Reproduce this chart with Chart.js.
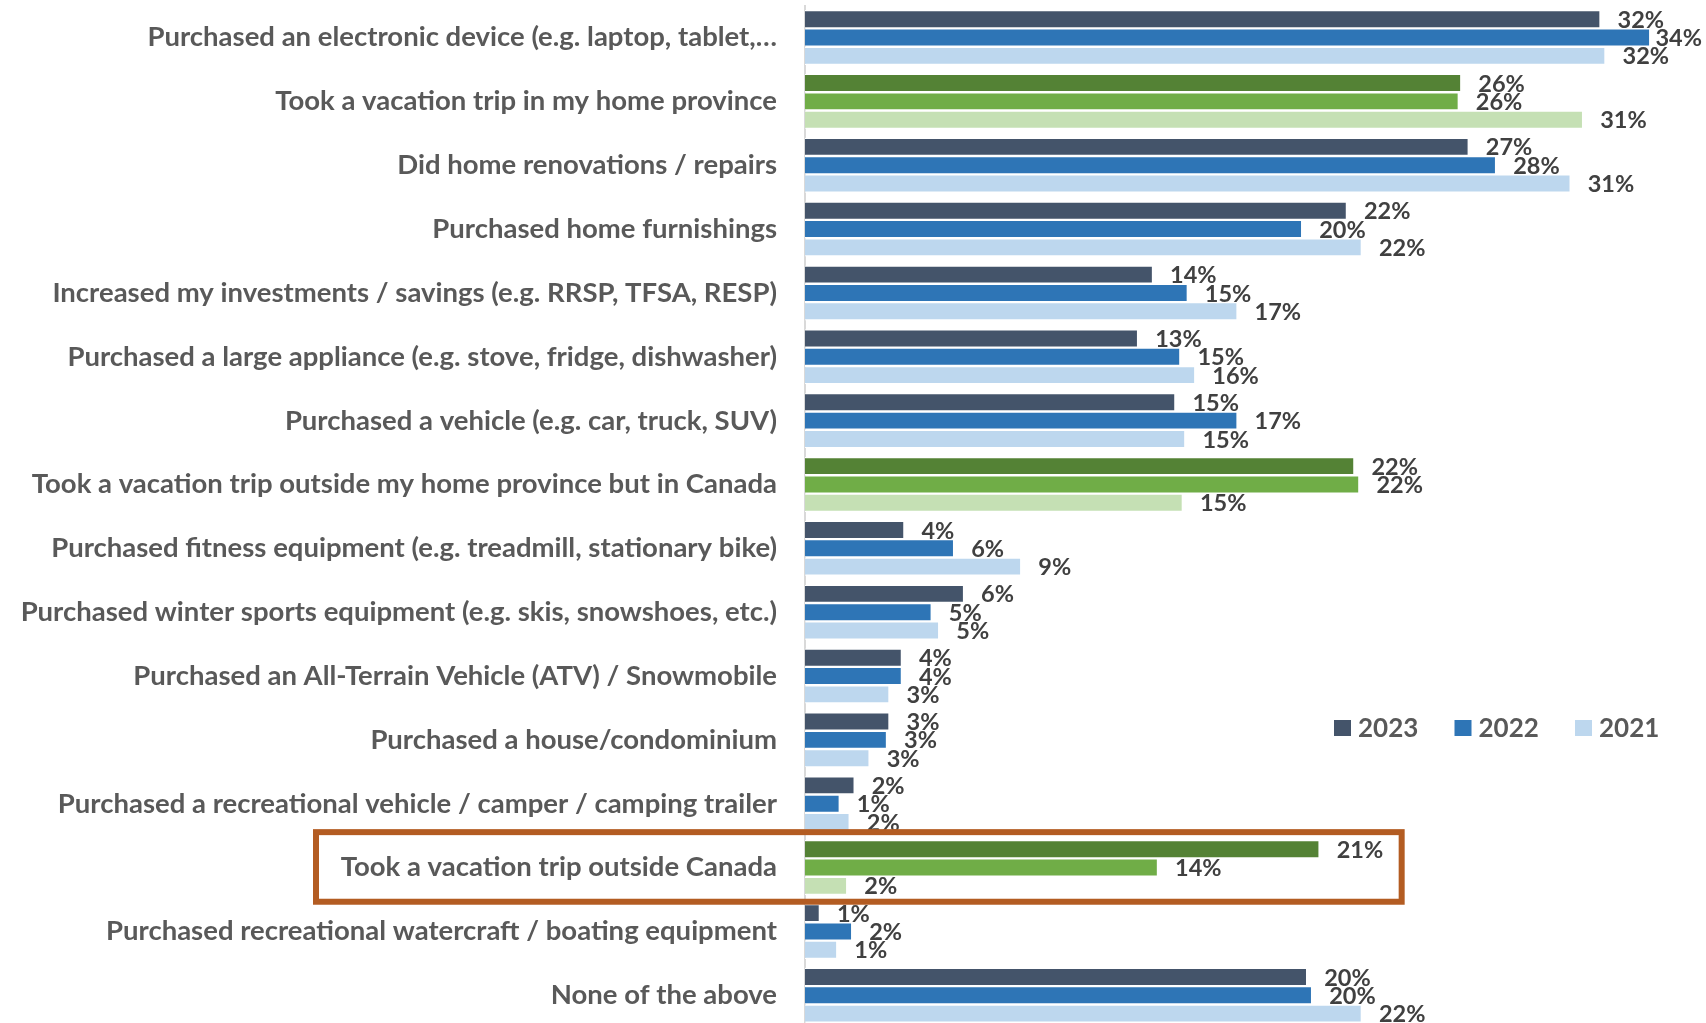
<!DOCTYPE html>
<html>
<head>
<meta charset="utf-8">
<title>Purchases by year</title>
<script src="https://cdn.jsdelivr.net/npm/chart.js@4.4.1/dist/chart.umd.min.js"></script>
<style>
    html, body { margin: 0; padding: 0; background: #ffffff; overflow: hidden; }
    #wrap { position: absolute; left: 0; top: 0; }
</style>
</head>
<body>
<div id="wrap">
    <canvas id="purchasesChart" width="1706" height="1032"></canvas>
</div>
<script>
// Categories (top to bottom)
const categories = [
    'Purchased an electronic device (e.g. laptop, tablet,\u2026',
    'Took a vacation trip in my home province',
    'Did home renovations / repairs',
    'Purchased home furnishings',
    'Increased my investments / savings (e.g. RRSP, TFSA, RESP)',
    'Purchased a large appliance (e.g. stove, fridge, dishwasher)',
    'Purchased a vehicle (e.g. car, truck, SUV)',
    'Took a vacation trip outside my home province but in Canada',
    'Purchased fitness equipment (e.g. treadmill, stationary bike)',
    'Purchased winter sports equipment (e.g. skis, snowshoes, etc.)',
    'Purchased an All-Terrain Vehicle (ATV) / Snowmobile',
    'Purchased a house/condominium',
    'Purchased a recreational vehicle / camper / camping trailer',
    'Took a vacation trip outside Canada',
    'Purchased recreational watercraft / boating equipment',
    'None of the above'
];

// Series values (%)
const years = ['2023', '2022', '2021'];
const values2023 = [32.0, 26.4, 26.7, 21.8, 14.0, 13.4, 14.9, 22.1, 4.0, 6.4, 3.9, 3.4, 2.0, 20.7, 0.6, 20.2];
const values2022 = [34.0, 26.3, 27.8, 20.0, 15.4, 15.1, 17.4, 22.3, 6.0, 5.1, 3.9, 3.3, 1.4, 14.2, 1.9, 20.4];
const values2021 = [32.2, 31.3, 30.8, 22.4, 17.4, 15.7, 15.3, 15.2, 8.7, 5.4, 3.4, 2.6, 1.8, 1.7, 1.3, 22.4];

// Travel categories are drawn in green
const travelRows = [1, 7, 13];
// Row with the orange highlight box
const boxedRow = 13;

const blues = ['#44546A', '#2E75B6', '#BDD7EE'];
const greens = ['#548235', '#70AD47', '#C5E0B4'];

function rowColors(idx) {
    return categories.map(function(c, i) {
        return travelRows.includes(i) ? greens[idx] : blues[idx];
    });
}

const FONT = 'Lato, "Open Sans", sans-serif';

// Data labels, right of each bar
const barLabels = {
    id: 'barLabels',
    afterDatasetsDraw(chart) {
        const ctx = chart.ctx;
        ctx.save();
        ctx.font = 'bold 23.5px ' + FONT;
        ctx.fillStyle = '#404040';
        ctx.textBaseline = 'middle';
        chart.data.datasets.forEach(function(ds, i) {
            const meta = chart.getDatasetMeta(i);
            meta.data.forEach(function(bar, j) {
                const text = Math.round(ds.data[j]) + '%';
                const w = ctx.measureText(text).width;
                let x = bar.x + 17;
                if (x + w > chart.width - 4) {
                    x = chart.width - 4 - w;
                }
                ctx.fillText(text, x, bar.y + 1);
            });
        });
        ctx.restore();
    }
};

// Orange box round the "outside Canada" row, plus the legend
const extras = {
    id: 'extras',
    afterDraw(chart) {
        const ctx = chart.ctx;
        const area = chart.chartArea;
        const y = chart.scales.y;
        const x = chart.scales.x;
        const rowH = (y.getPixelForValue(1) - y.getPixelForValue(0));
        const cy = y.getPixelForValue(boxedRow);

        ctx.save();
        ctx.strokeStyle = '#B35C22';
        ctx.lineWidth = 6;
        const left = area.left - 489;
        const right = x.getPixelForValue(24);
        const top = cy - rowH * 0.555;
        const bottom = cy + rowH * 0.535;
        ctx.strokeRect(left, top, right - left, bottom - top);

        // Legend
        const ly = 728;
        let lx = area.left + 529;
        ctx.font = 'bold 26px ' + FONT;
        ctx.textBaseline = 'middle';
        years.forEach(function(yr, i) {
            ctx.fillStyle = blues[i];
            ctx.fillRect(lx, ly - 8, 17, 16);
            ctx.fillStyle = '#595959';
            ctx.fillText(yr, lx + 24, ly + 1);
            lx += 120.5;
        });
        ctx.restore();
    }
};

const ctx = document.getElementById('purchasesChart');
new Chart(ctx, {
    type: 'bar',
    data: {
        labels: categories,
        datasets: [
            { label: years[0], data: values2023, backgroundColor: rowColors(0) },
            { label: years[1], data: values2022, backgroundColor: rowColors(1) },
            { label: years[2], data: values2021, backgroundColor: rowColors(2) }
        ]
    },
    options: {
        indexAxis: 'y',
        responsive: false,
        animation: false,
        layout: { padding: { top: 5.6, right: 6, bottom: 4.8, left: 0 } },
        datasets: {
            bar: {
                categoryPercentage: 0.86,
                barPercentage: 1.0,
                borderWidth: 1.2,
                borderColor: '#ffffff',
                borderSkipped: 'start'
            }
        },
        scales: {
            x: {
                display: false,
                min: 0,
                max: 36
            },
            y: {
                grid: { display: false, drawTicks: false },
                border: { display: true, color: '#D9D9D9', width: 2 },
                ticks: {
                    color: '#595959',
                    padding: 28,
                    autoSkip: false,
                    font: { family: FONT, size: 27.5, weight: 'bold' }
                },
                afterFit: function(scale) {
                    // fixed axis width, and no extra room above/below the bars
                    scale.width = 805;
                    scale.paddingTop = 0;
                    scale.paddingBottom = 0;
                }
            }
        },
        plugins: {
            legend: { display: false },
            tooltip: { enabled: false }
        }
    },
    plugins: [barLabels, extras]
});
</script>
</body>
</html>
